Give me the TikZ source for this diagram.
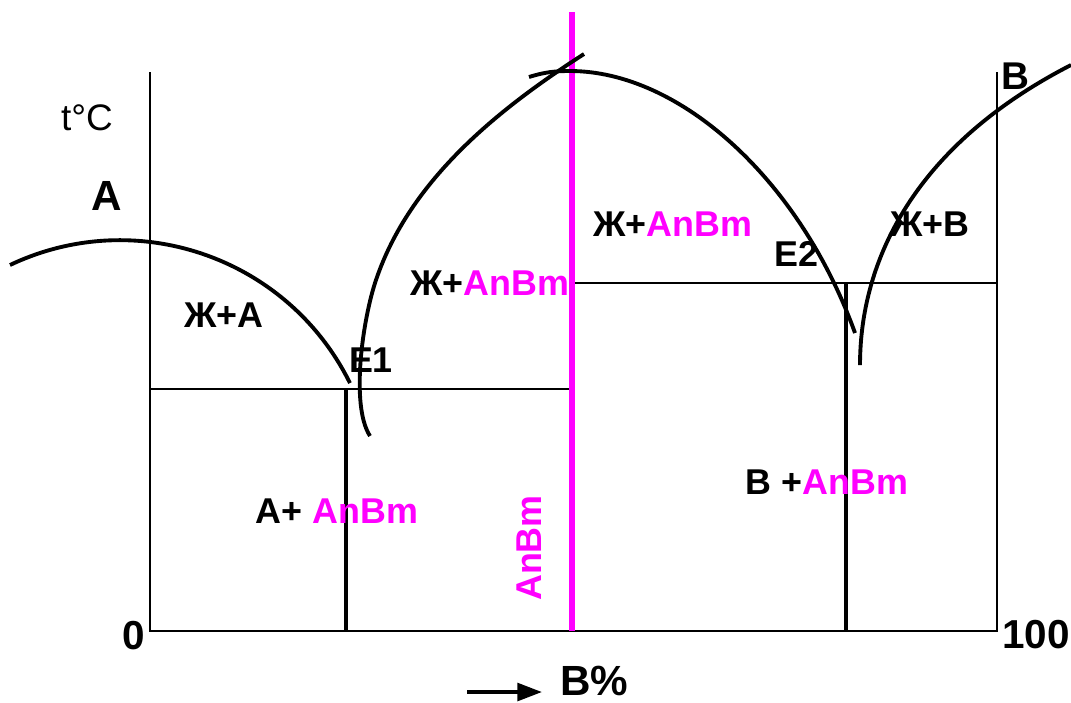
\documentclass[tikz,border=0pt]{standalone}
\usepackage{fontspec}
\setmainfont{Liberation Sans}
\usetikzlibrary{arrows.meta}
\definecolor{anbm}{RGB}{255,0,255}
\tikzset{
  phase/.style={font=\fontsize{10.2}{12}\selectfont\bfseries,inner sep=0pt},
  numlbl/.style={font=\fontsize{11.5}{13}\selectfont\bfseries,inner sep=0pt},
  axisline/.style={line width=0.6pt},
  solidus/.style={line width=0.95pt},
  liqline/.style={line width=1.1pt},
}
\newcommand{\AnBm}{\textcolor{anbm}{AnBm}}
\begin{document}
\begin{tikzpicture}[x=0.01cm,y=-0.01cm]
  \useasboundingbox (0,0) rectangle (1071,702);
  % frame and eutectic lines
  \draw[axisline] (150,72) -- (150,631) -- (997,631) -- (997,72);
  \draw[axisline] (150,389) -- (572,389);
  \draw[axisline] (572,283) -- (997,283);
  \draw[solidus] (346,389) -- (346,631);
  \draw[solidus] (846,283) -- (846,631);
  % compound AnBm
  \draw[anbm,line width=1.6pt] (572,12) -- (572,631);
  % liquidus curves
  \draw[liqline] (10,265) arc[start angle=-115.4,end angle=-26.3,radius=256.5];
  \draw[liqline] (370,436) .. controls (350,405) and (363,318) .. (376,280)
    .. controls (410,179) and (500,108) .. (584,54);
  \draw[liqline] (529,77) .. controls (545,72) and (555,71) .. (570,71)
    .. controls (680,71) and (800,180) .. (855,333);
  \draw[liqline] (860,365) .. controls (860,260) and (915,145) .. (1071,65);
  % labels
  \node[font=\fontsize{10.5}{12}\selectfont,inner sep=0pt] (tC) at (87,118) {t°C};
  \node[font=\fontsize{12}{14}\selectfont\bfseries,inner sep=0pt] (pA) at (107,196) {A};
  \node[font=\fontsize{11}{13}\selectfont\bfseries,inner sep=0pt] (pB) at (1015,76) {B};
  \node[phase] (lqA) at (224,315) {Ж+A};
  \node[phase] (e1) at (371,360) {E1};
  \node[phase] (lqABl) at (490,283) {Ж+\AnBm};
  \node[phase] (lqABr) at (673,224) {Ж+\AnBm};
  \node[phase] (e2) at (796,254) {E2};
  \node[phase] (lqB) at (930,224) {Ж+B};
  \node[phase] (solA) at (337,511) {A+ \AnBm};
  \node[phase] (solB) at (827,482) {B +\AnBm};
  \node[phase,rotate=90,text=anbm] (comp) at (529,548) {AnBm};
  \node[numlbl] (zero) at (134,636) {0};
  \node[numlbl] (hundred) at (1036,635) {100};
  \node[font=\fontsize{12}{14}\selectfont\bfseries,inner sep=0pt] (pct) at (594,681) {B\%};
  % composition arrow
  \coordinate (arrS) at (467,692);
  \coordinate (arrE) at (542,692);
  \draw[line width=1.1pt,-{Triangle[length=7pt,width=5pt]}] (arrS) -- (arrE);
\end{tikzpicture}
\end{document}
